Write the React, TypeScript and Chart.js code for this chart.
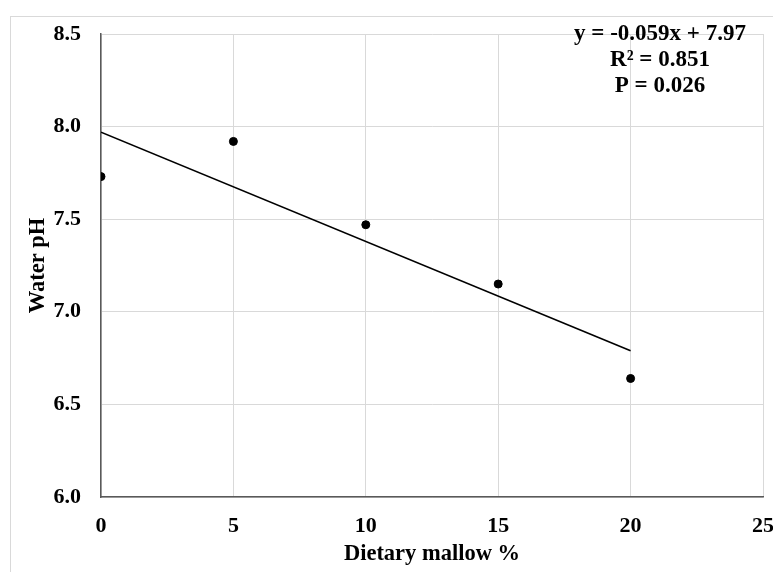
import React, { useEffect, useRef } from "react";
import { Chart, registerables } from "chart.js";

Chart.register(...registerables);

const mallowPercent = [0, 5, 10, 15, 20];
const waterPH = [7.73, 7.92, 7.47, 7.15, 6.64];
const trendX = [0, 20];
const trendY = [7.97, 6.79];
const annotationLines = ["y = -0.059x + 7.97", "R² = 0.851", "P = 0.026"];
const xTitle = "Dietary mallow %";
const yTitle = "Water pH";

const FONT = "'Liberation Serif', 'Times New Roman', serif";

const framePlugin = {
  id: "frame",
  beforeDraw(chart: any) {
    const ctx = chart.ctx;
    ctx.save();
    ctx.strokeStyle = "#d9d9d9";
    ctx.lineWidth = 1;
    ctx.strokeRect(10.5, 16.5, 900, 700);
    ctx.restore();
  },
};

const annotationPlugin = {
  id: "annot",
  afterDraw(chart: any) {
    const ctx = chart.ctx;
    ctx.save();
    ctx.font = `bold 23px ${FONT}`;
    ctx.fillStyle = "#000";
    ctx.textAlign = "center";
    ctx.textBaseline = "middle";
    annotationLines.forEach((t, i) => {
      ctx.fillText(t, 660, 34 + i * 25.8);
    });
    ctx.restore();
  },
};

export default function App() {
  const ref = useRef<HTMLCanvasElement>(null);
  useEffect(() => {
    if (!ref.current) return;
    const chart = new Chart(ref.current, {
      type: "scatter",
      data: {
        datasets: [
          {
            type: "line",
            data: trendX.map((x, i) => ({ x, y: trendY[i] })),
            borderColor: "#000",
            borderWidth: 1.6,
            pointRadius: 0,
            fill: false,
          } as any,
          {
            data: mallowPercent.map((x, i) => ({ x, y: waterPH[i] })),
            backgroundColor: "#000",
            borderColor: "#000",
            pointRadius: 4,
          },
        ],
      },
      options: {
        animation: false,
        responsive: false,
        maintainAspectRatio: false,
        layout: { padding: { left: 0, top: 34, right: 10, bottom: 0 } },
        plugins: { legend: { display: false }, tooltip: { enabled: false } },
        scales: {
          x: {
            type: "linear",
            min: 0,
            max: 25,
            ticks: {
              stepSize: 5,
              padding: 16,
              color: "#000",
              font: { family: FONT, size: 22, weight: "bold" },
            },
            grid: { color: "#d9d9d9", drawTicks: false, lineWidth: 1 },
            border: { color: "#595959", width: 1.5 },
            title: {
              display: true,
              text: xTitle,
              color: "#000",
              font: { family: FONT, size: 22.5, weight: "bold" },
              padding: { top: 0, bottom: 4 },
            },
            afterFit(scale: any) {
              scale.height = 75;
              scale.paddingRight = 0;
              scale.paddingLeft = 0;
            },
          },
          y: {
            type: "linear",
            min: 6,
            max: 8.5,
            ticks: {
              stepSize: 0.5,
              padding: 20,
              color: "#000",
              callback: (v: any) => Number(v).toFixed(1),
              font: { family: FONT, size: 22, weight: "bold" },
            },
            grid: { color: "#d9d9d9", drawTicks: false, lineWidth: 1 },
            border: { color: "#595959", width: 1.5 },
            title: {
              display: true,
              text: yTitle,
              color: "#000",
              font: { family: FONT, size: 22.5, weight: "bold" },
              padding: { top: 25, bottom: 0 },
            },
            afterFit(scale: any) {
              scale.width = 101;
              scale.paddingTop = 0;
              scale.paddingBottom = 0;
            },
          },
        },
      },
      plugins: [framePlugin, annotationPlugin],
    });
    return () => chart.destroy();
  }, []);
  return (
    <div style={{ position: "absolute", left: 0, top: 0, width: 773, height: 572, background: "#fff" }}>
      <canvas ref={ref} width={773} height={572} style={{ width: 773, height: 572, display: "block" }} />
    </div>
  );
}
